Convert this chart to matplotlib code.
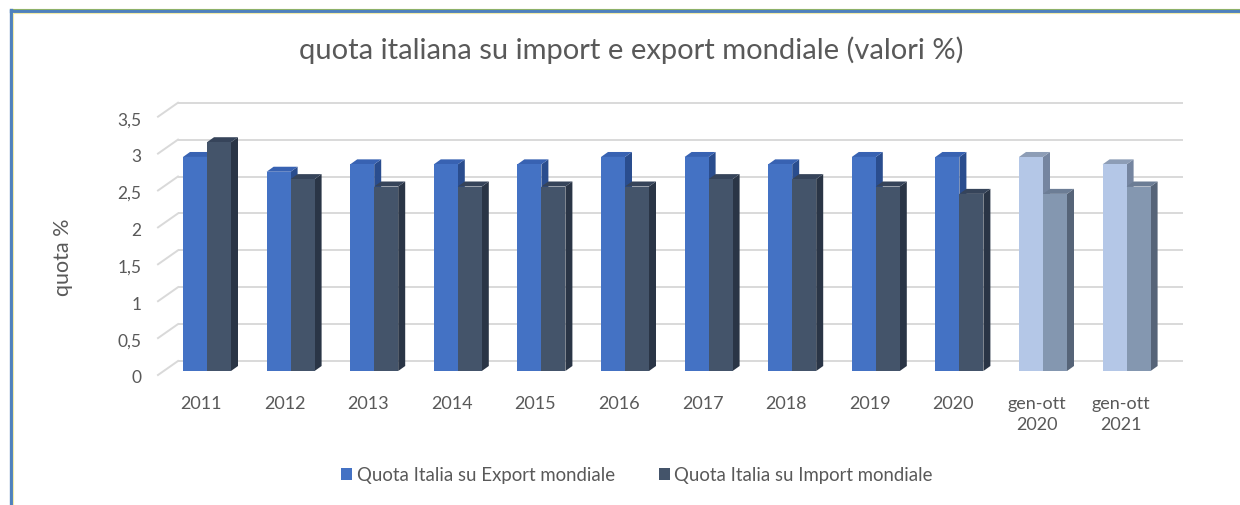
import matplotlib
matplotlib.use("Agg")
from matplotlib import pyplot as plt
from matplotlib.patches import Polygon, Rectangle
from matplotlib.lines import Line2D
import matplotlib.transforms as mtransforms

categories = ["2011", "2012", "2013", "2014", "2015", "2016", "2017", "2018",
              "2019", "2020", "gen-ott\n2020", "gen-ott\n2021"]
export_share = [2.9, 2.7, 2.8, 2.8, 2.8, 2.9, 2.9, 2.8, 2.9, 2.9, 2.9, 2.8]
import_share = [3.1, 2.6, 2.5, 2.5, 2.5, 2.5, 2.6, 2.6, 2.5, 2.4, 2.4, 2.5]
yticks = [0, 0.5, 1, 1.5, 2, 2.5, 3, 3.5]
ytick_labels = ["0", "0,5", "1", "1,5", "2", "2,5", "3", "3,5"]
series_names = ["Quota Italia su Export mondiale", "Quota Italia su Import mondiale"]

# (front, top, side) colours; last two categories are the lighter partial-year bars
exp_col = ("#4472C4", "#3862B2", "#2A4D8E")
imp_col = ("#44546A", "#36445A", "#2A3546")
exp_light = ("#B4C7E7", "#8D9DB6", "#7585A0")
imp_light = ("#8497B0", "#6C7D95", "#566478")

txt = "#595959"
plt.rcParams['font.family'] = ['Lato', 'DejaVu Sans']

W, H = 1240, 506
fig = plt.figure(figsize=(W / 100, H / 100), dpi=100)

# plot area in pixels (front plane of the bars)
x_left, x_right = 165.2, 1168.4
y_bot, y_top = 372, 113.7
ax = fig.add_axes([x_left / W, 1 - y_bot / H, (x_right - x_left) / W, (y_bot - y_top) / H])
ax.set_xlim(-0.5, len(categories) - 0.5)
ax.set_ylim(0, 3.5)
for s in ax.spines.values():
    s.set_visible(False)

# pixel -> data conversion
px_x = (len(categories)) / (x_right - x_left)
px_y = 3.5 / (y_bot - y_top)

# gridlines drawn with a fake depth
back_dy = 10 * px_y
x_back0 = -0.5 + (178 - x_left) * px_x
x_back1 = -0.5 + (1183 - x_left) * px_x
x_front0 = -0.5 + (158 - x_left) * px_x
for v in yticks:
    ax.plot([x_back0, x_back1], [v + back_dy, v + back_dy], color="#D9D9D9", lw=1.4,
            zorder=1, clip_on=False, solid_capstyle="butt")
    ax.plot([x_front0, x_back0], [v - 4 * px_y, v + back_dy], color="#D9D9D9", lw=1.4,
            zorder=1, clip_on=False)

bw = 24 * px_x
ddx, ddy = 7 * px_x, 5 * px_y


def bar3d(x0, h, cols):
    front, top, side = cols
    x1 = x0 + bw
    ax.add_patch(Polygon([(x1, 0), (x1 + ddx, ddy), (x1 + ddx, h + ddy), (x1, h)],
                         closed=True, facecolor=side, edgecolor="none", zorder=3, clip_on=False))
    ax.add_patch(Polygon([(x0, h), (x0 + ddx, h + ddy), (x1 + ddx, h + ddy), (x1, h)],
                         closed=True, facecolor=top, edgecolor="none", zorder=3, clip_on=False))
    ax.add_patch(Rectangle((x0, 0), bw, h, facecolor=front, edgecolor="none",
                           zorder=3, clip_on=False))


for i, (e, m) in enumerate(zip(export_share, import_share)):
    light = categories[i].startswith("gen")
    bar3d(i - bw, e, exp_light if light else exp_col)
    bar3d(i, m, imp_light if light else imp_col)

# axis labels
ax.set_yticks(yticks)
ax.set_yticklabels(ytick_labels, color=txt, fontsize=12.5)
ax.tick_params(axis="y", length=0, pad=17)
off_y = mtransforms.ScaledTranslation(0, -5 / 100, fig.dpi_scale_trans)
for lab in ax.get_yticklabels():
    lab.set_transform(lab.get_transform() + off_y)

ax.set_xticks(range(len(categories)))
ax.set_xticklabels(categories, color=txt, fontsize=13, linespacing=1.45)
ax.tick_params(axis="x", length=0, pad=17)
off_x = mtransforms.ScaledTranslation(-6 / 100, 0, fig.dpi_scale_trans)
for lab in ax.get_xticklabels():
    lab.set_transform(lab.get_transform() + off_x)

fig.text(63 / W, 1 - 257 / H, "quota %", rotation=90, ha="center", va="center",
         color=txt, fontsize=15.5)
fig.text(631 / W, 1 - 50 / H, "quota italiana su import e export mondiale (valori %)",
         ha="center", va="center", color=txt, fontsize=21)

handles = [Rectangle((0, 0), 1, 1, facecolor=exp_col[0]),
           Rectangle((0, 0), 1, 1, facecolor=imp_col[0])]
fig.legend(handles, series_names, loc="center", bbox_to_anchor=(637 / W, 1 - 476 / H),
           ncol=2, frameon=False, fontsize=13.4, labelcolor=txt, handlelength=0.6,
           handleheight=0.6, handletextpad=0.25, columnspacing=2.35)

# outer frame (blue top and left border)
fig.add_artist(Line2D([10 / W, 1], [1 - 10 / H] * 2, color="#9BBB59", lw=0.8))
fig.add_artist(Line2D([11 / W, 1], [1 - 12 / H] * 2, color="#4F81BD", lw=2.4))
fig.add_artist(Line2D([12 / W, 1], [1 - 14 / H] * 2, color="#F2EBA8", lw=0.8))
fig.add_artist(Line2D([11 / W] * 2, [0, 1 - 11 / H], color="#4F81BD", lw=2.4))
fig.add_artist(Line2D([13 / W] * 2, [0, 1 - 14 / H], color="#F2EBA8", lw=0.8))

fig.savefig("out.png", dpi=100)
